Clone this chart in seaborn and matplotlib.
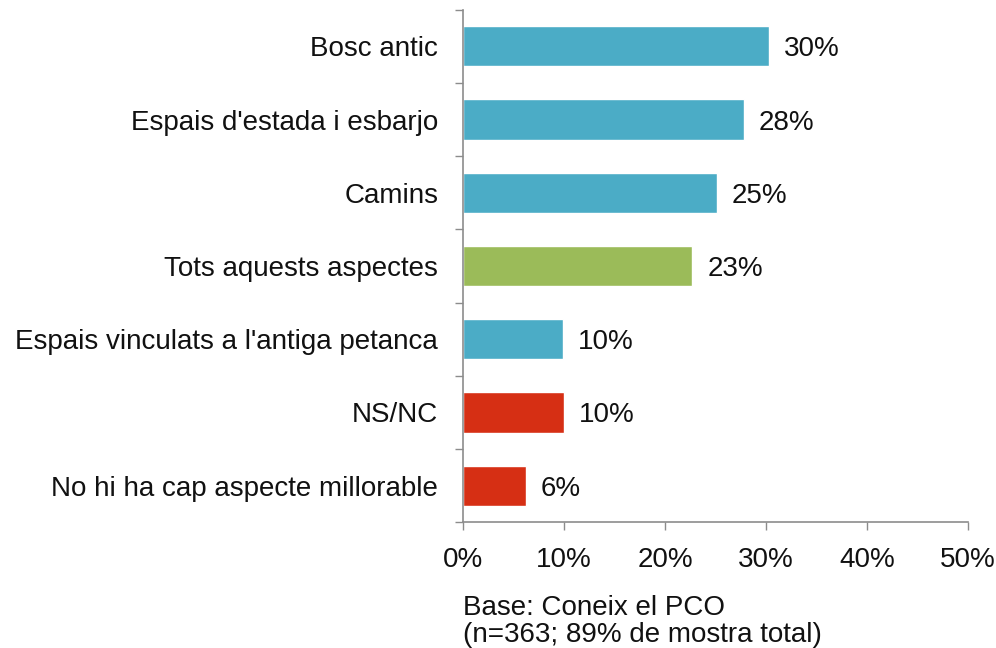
import numpy as np
import pandas as pd
import matplotlib.pyplot as plt
import seaborn as sns

# ── Data ──────────────────────────────────────────────────────────────────────
categories = [
    "Bosc antic",
    "Espais d'estada i esbarjo",
    "Camins",
    "Tots aquests aspectes",
    "Espais vinculats a l'antiga petanca",
    "NS/NC",
    "No hi ha cap aspecte millorable",
]
values = [30.3, 27.8, 25.1, 22.7, 9.9, 10.0, 6.2]
value_labels = ["30%", "28%", "25%", "23%", "10%", "10%", "6%"]
groups = ["aspect", "aspect", "aspect", "all", "aspect", "none", "none"]
x_ticks = [0, 10, 20, 30, 40, 50]
note = "Base: Coneix el PCO\n(n=363; 89% de mostra total)"

# ── Style ─────────────────────────────────────────────────────────────────────
C_BLUE = "#4BACC6"
C_GREEN = "#9BBB59"
C_RED = "#D62F14"
group_colors = {"aspect": C_BLUE, "all": C_GREEN, "none": C_RED}
AXIS_GREY = "#8C8C8C"
FS = 20

sns.set_style("white")
plt.rcParams["font.family"] = ["Liberation Sans", "DejaVu Sans"]
plt.rcParams["text.color"] = "#111111"
plt.rcParams["xtick.color"] = "#111111"
plt.rcParams["ytick.color"] = "#111111"

df = pd.DataFrame({"cat": categories, "val": values, "grp": groups})
palette = {c: group_colors[g] for c, g in zip(categories, groups)}

fig = plt.figure(figsize=(9.96, 6.48), dpi=100)
ax = fig.add_axes([0.465, 0.194, 0.507, 0.791])

sns.barplot(data=df, x="val", y="cat", hue="cat", palette=palette,
            order=categories, legend=False, width=0.55, saturation=1,
            ax=ax)

for bar, lab in zip(ax.patches, value_labels):
    ax.text(bar.get_width() + 1.5, bar.get_y() + bar.get_height() / 2, lab,
            va="center_baseline", ha="left", fontsize=FS)

ax.set_xlim(0, 50)
ax.set_ylim(len(categories) - 0.5, -0.5)
ax.set_xticks(x_ticks)
ax.set_xticklabels([f"{t}%" for t in x_ticks], fontsize=FS)
ax.tick_params(axis="x", length=6, width=1, color=AXIS_GREY, pad=12,
               direction="out", bottom=True)
ax.tick_params(axis="y", which="major", length=0, pad=18, labelsize=FS)
ax.set_yticks(np.arange(-0.5, len(categories)), minor=True)
ax.tick_params(axis="y", which="minor", length=6, width=1, color=AXIS_GREY,
               direction="out", left=True)
ax.set_xlabel("")
ax.set_ylabel("")

for side in ["top", "right"]:
    ax.spines[side].set_visible(False)
for side in ["left", "bottom"]:
    ax.spines[side].set_color(AXIS_GREY)
    ax.spines[side].set_linewidth(1.2)

fig.text(0.465, 0.0, note, fontsize=FS, ha="left", va="bottom",
         linespacing=1.05)

plt.savefig("out.png", dpi=100)
plt.close(fig)
